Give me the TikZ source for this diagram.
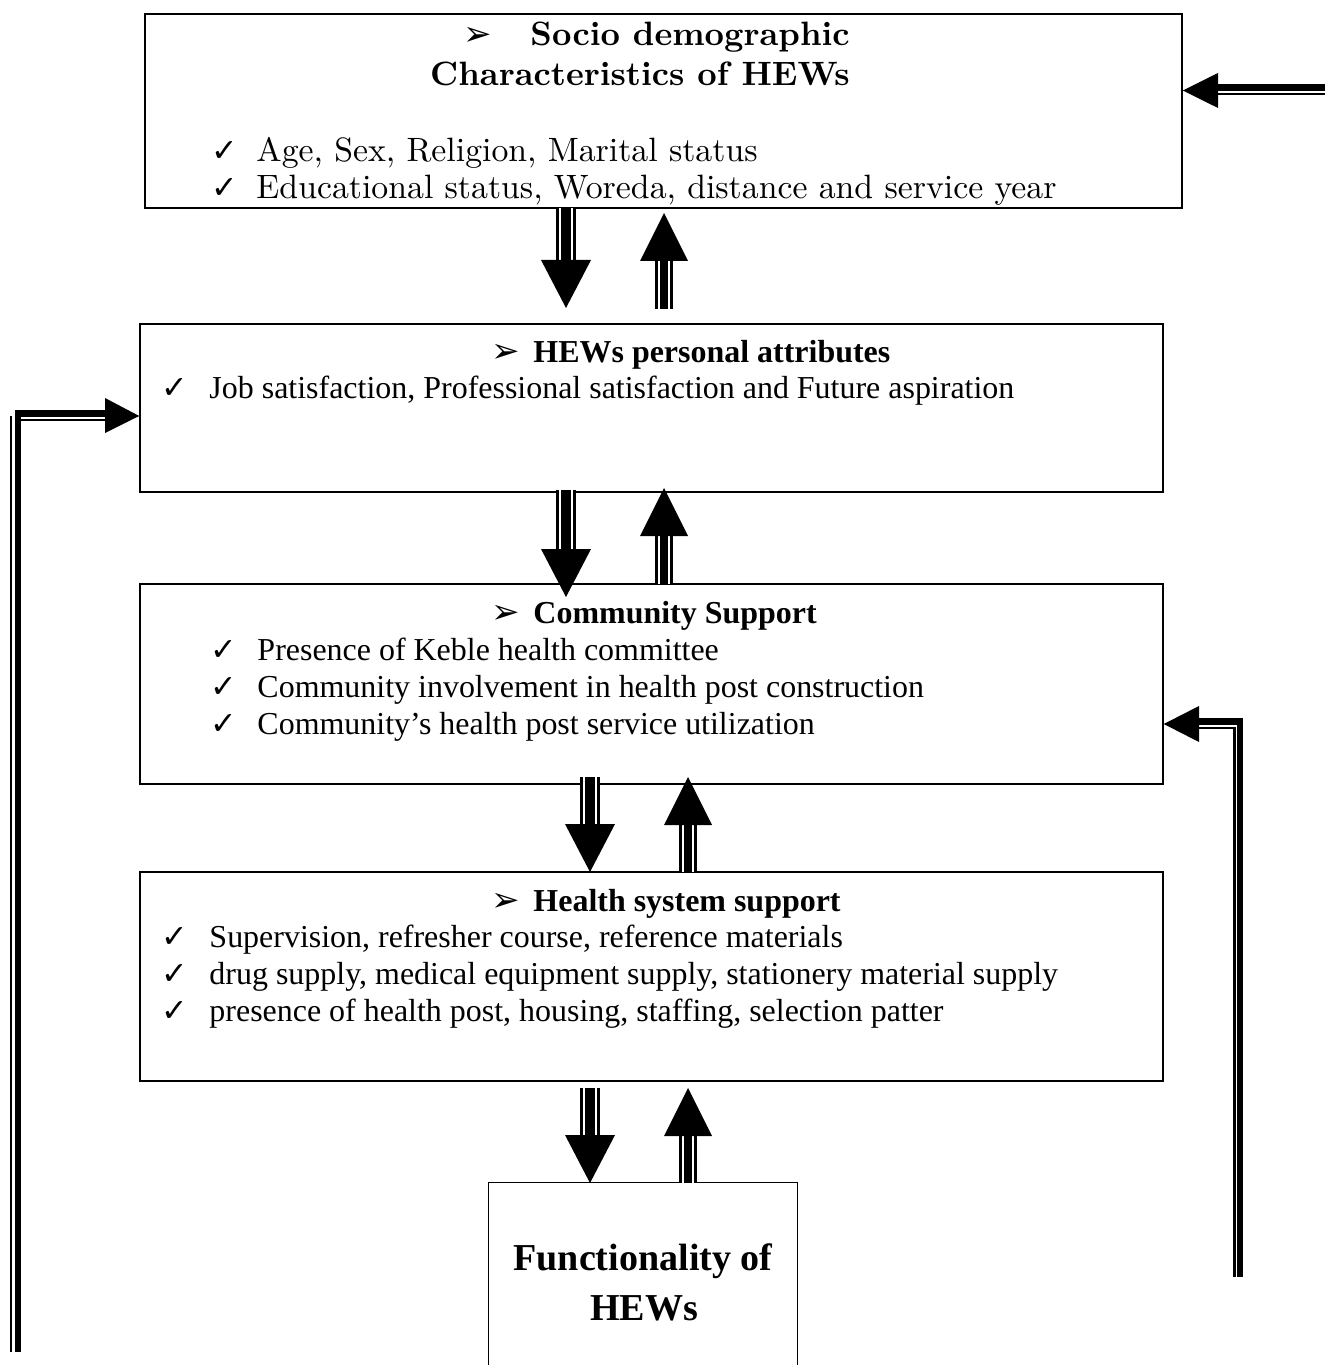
\documentclass[tikz,border=0pt]{standalone}
\usepackage{fontspec}
\setmainfont{Liberation Serif}
\newfontfamily\lmfont[BoldFont=lmroman10-bold.otf]{lmroman10-regular.otf}
\newfontfamily\symfont{DejaVu Sans}
\usetikzlibrary{fit}
\newcommand\dnarr[3]{%
  \draw[line width=7.8pt] (#1,#2) -- (#1,{#3-48});
  \draw[white,line width=5.7pt] (#1,#2) -- (#1,{#3-48});
  \draw[line width=4.1pt] (#1,#2) -- (#1,{#3-48});
  \fill ({#1-25},{#3-48}) -- ({#1+25},{#3-48}) -- (#1,#3) -- cycle;}
\newcommand\uparr[3]{%
  \draw[line width=7.2pt] (#1,{#2+48}) -- (#1,#3);
  \draw[white,line width=5.2pt] (#1,{#2+48}) -- (#1,#3);
  \draw[line width=3.4pt] (#1,{#2+48}) -- (#1,#3);
  \fill ({#1-24},{#2+48}) -- ({#1+24},{#2+48}) -- (#1,#2) -- cycle;}
\begin{document}
\begin{tikzpicture}[x=0.41pt,y=-0.41pt,
  box/.style={draw,line width=0.6pt,inner sep=0pt},
  txt/.style={anchor=base west,inner sep=0pt,font=\fontsize{13.1}{15}\selectfont},
  ttl/.style={anchor=base west,inner sep=0pt,font=\fontsize{13.1}{15}\selectfont\bfseries},
  lmtxt/.style={anchor=base west,inner sep=0pt,font=\lmfont\fontsize{13.85}{16}\selectfont},
  lmttl/.style={inner sep=0pt,font=\lmfont\fontsize{13.85}{16}\selectfont\bfseries},
  chk/.style={anchor=base west,inner sep=0pt,font=\symfont\fontsize{13}{14}\selectfont},
  pnt/.style={anchor=base west,inner sep=0pt,font=\symfont\fontsize{14}{15}\selectfont},
  thick line/.style={line width=2.8pt},
  thin line/.style={line width=1pt}]
\useasboundingbox (0,0) rectangle (1325,1365);
\fill[white] (0,0) rectangle (1325,1365);

% boxes
\node[box,fit={(145,14) (1182,208)}] (b1) {};
\node[box,fit={(140,324) (1163,492)}] (b2) {};
\node[box,fit={(140,584) (1163,784)}] (b3) {};
\node[box,fit={(140,872) (1163,1081)}] (b4) {};
\node[inner sep=0pt,fit={(489,1183) (797,1365)}] (b5) {};
\draw[line width=0.6pt] (b5.south west) -- (b5.north west) -- (b5.north east) -- (b5.south east);

% box 1 text
\node[pnt] (p1) at (463,46) {➢};
\node[lmttl,anchor=base west] (t1a) at (530,46) {Socio demographic};
\node[lmttl,anchor=base] (t1b) at (640,86) {Characteristics of HEWs};
\node[chk] (c1a) at (211,162) {✓};
\node[lmtxt] (i1a) at (256,162) {Age, Sex, Religion, Marital status};
\node[chk] (c1b) at (211,199) {✓};
\node[lmtxt] (i1b) at (256,199) {Educational status, Woreda, distance and service year};

% box 2 text
\node[pnt] (p2) at (491,363) {➢};
\node[ttl] (t2) at (533,363) {HEWs personal attributes};
\node[chk] (c2a) at (161,399) {✓};
\node[txt] (i2a) at (209,399) {Job satisfaction, Professional satisfaction and Future aspiration};

% box 3 text
\node[pnt] (p3) at (491,623) {➢};
\node[ttl] (t3) at (533,623) {Community Support};
\node[chk] (c3a) at (210,660) {✓};
\node[txt] (i3a) at (257,660) {Presence of Keble health committee};
\node[chk] (c3b) at (210,697) {✓};
\node[txt] (i3b) at (257,697) {Community involvement in health post construction};
\node[chk] (c3c) at (210,734) {✓};
\node[txt] (i3c) at (257,734) {Community’s health post service utilization};

% box 4 text
\node[pnt] (p4) at (491,911) {➢};
\node[ttl] (t4) at (533,911) {Health system support};
\node[chk] (c4a) at (161,947) {✓};
\node[txt] (i4a) at (209,947) {Supervision, refresher course, reference materials};
\node[chk] (c4b) at (161,984) {✓};
\node[txt] (i4b) at (209,984) {drug supply, medical equipment supply, stationery material supply};
\node[chk] (c4c) at (161,1021) {✓};
\node[txt] (i4c) at (209,1021) {presence of health post, housing, staffing, selection patter};

% box 5 text
\node[inner sep=0pt,anchor=base,font=\fontsize{15.6}{19}\selectfont\bfseries] (t5a) at (643,1270) {Functionality of};
\node[inner sep=0pt,anchor=base,font=\fontsize{15.6}{19}\selectfont\bfseries] (t5b) at (644,1320) {HEWs};

% vertical arrows
\dnarr{566}{208}{308}
\uparr{664}{213}{309}
\dnarr{566}{490}{597}
\uparr{664}{488}{584}
\dnarr{590}{777}{872}
\uparr{688}{777}{872}
\dnarr{590}{1088}{1183}
\uparr{688}{1088}{1183}

% top right arrow
\draw[thick line] (1325,87.5) -- (1218,87.5);
\draw[thin line] (1325,94) -- (1218,94);
\fill (1218,73) -- (1218,108) -- (b1.east |- 0,90.5) -- cycle;

% left L arrow
\draw[thick line] (18,1352) -- (18,413.5) -- (105,413.5);
\draw[thin line] (11,1352) -- (11,416);
\draw[thin line] (17,420) -- (105,420);
\fill (105,398) -- (105,433) -- (b2.west |- 0,416) -- cycle;

% right L arrow
\draw[thick line] (1240,1277) -- (1240,721.5) -- (1199,721.5);
\draw[thin line] (1234.5,1277) -- (1234.5,728) -- (1199,728);
\fill (1199,706) -- (1199,742) -- (b3.east |- 0,724) -- cycle;
\end{tikzpicture}
\end{document}
